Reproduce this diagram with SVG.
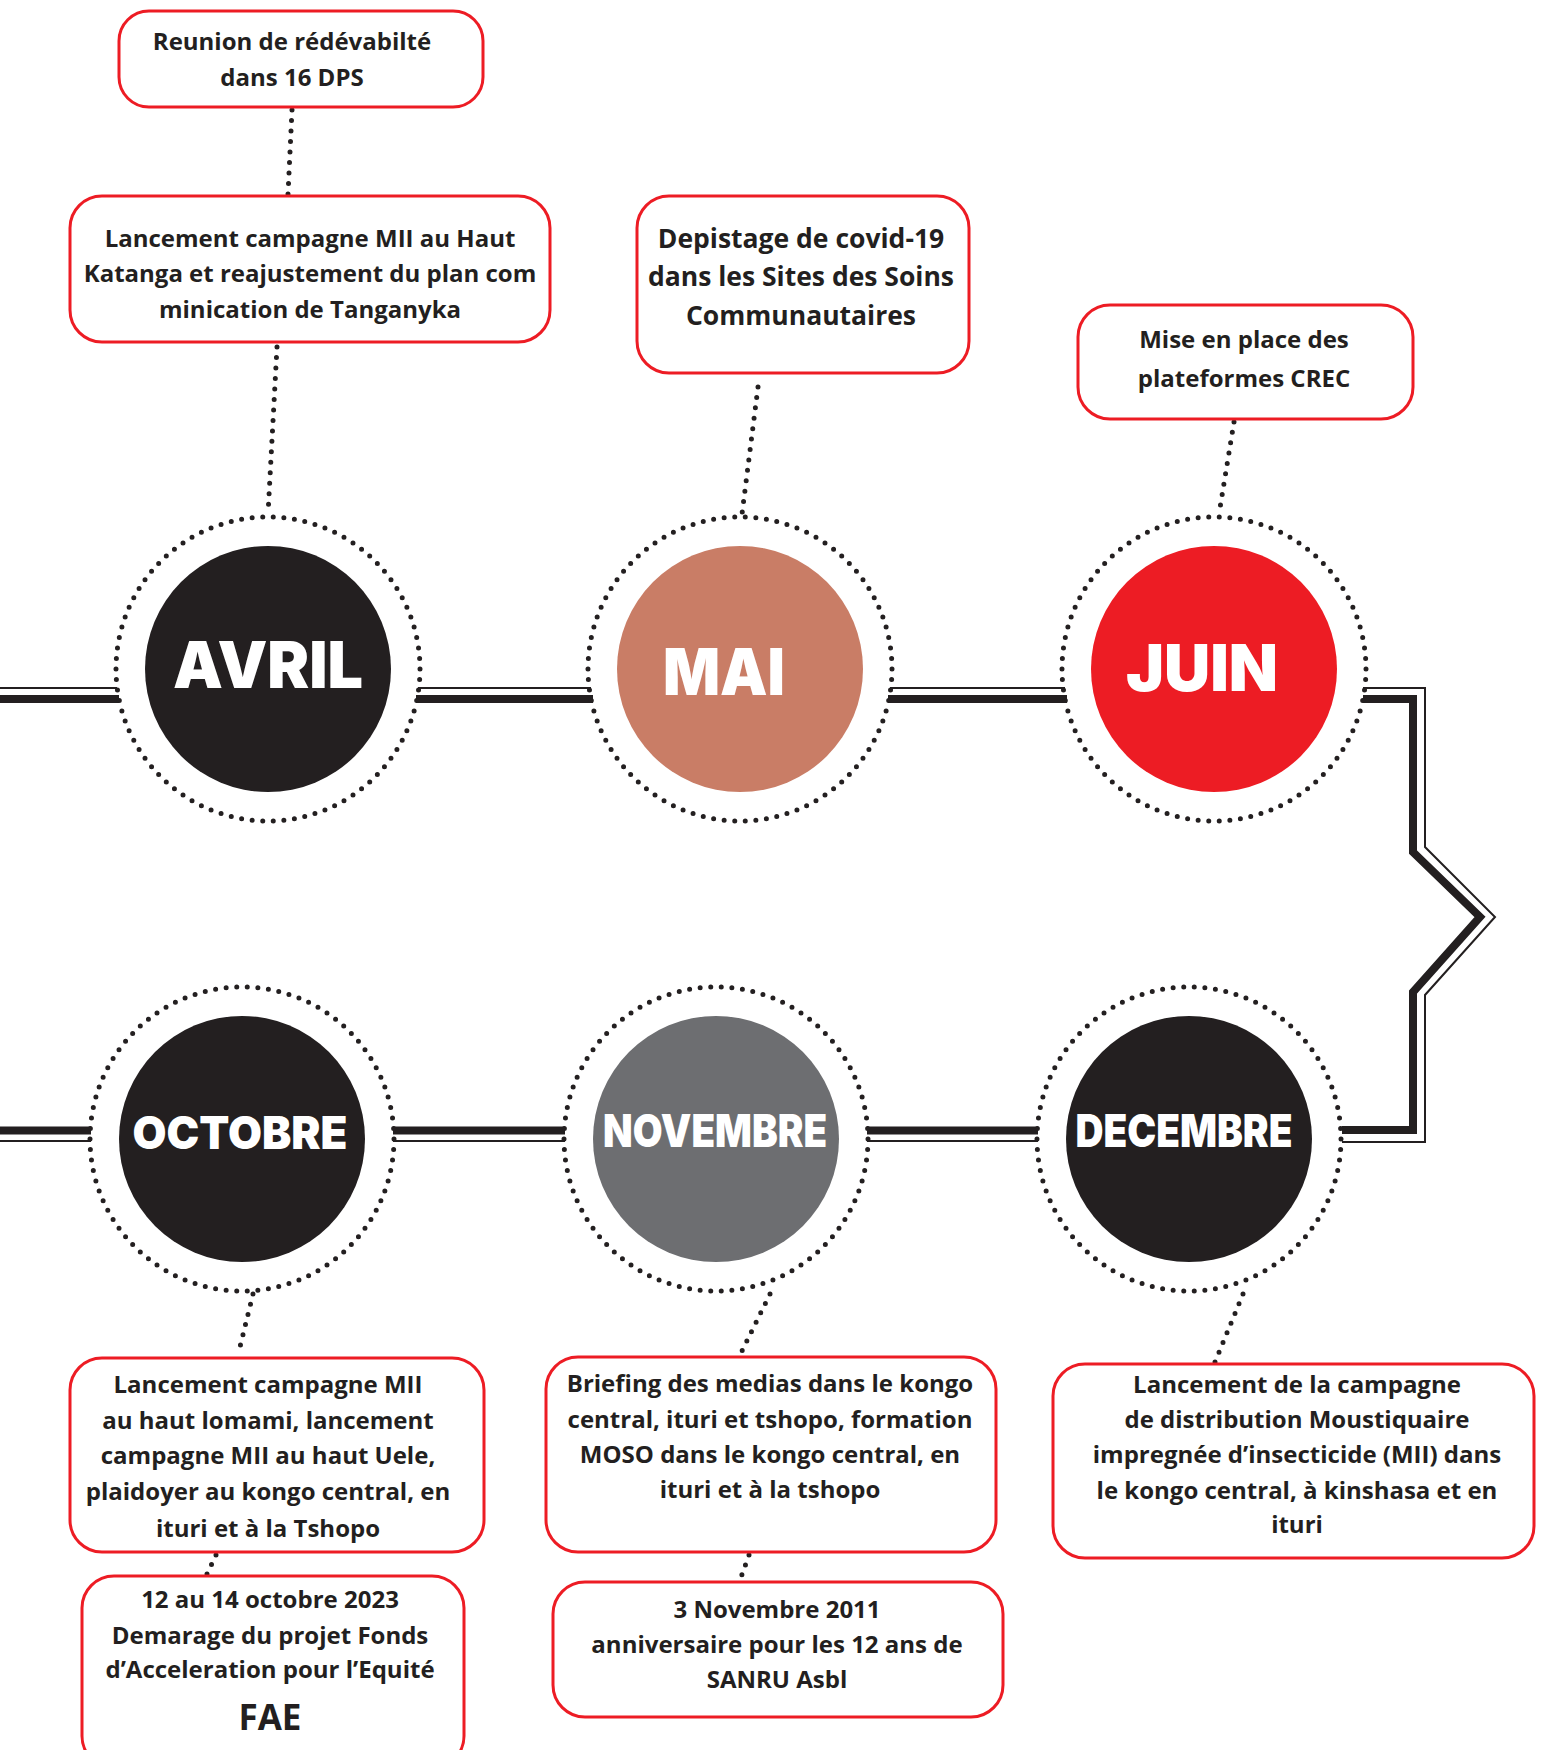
<svg xmlns="http://www.w3.org/2000/svg" width="1544" height="1750" viewBox="0 0 1544 1750">
<style>
.box{fill:#fff;stroke:#ED1C24;stroke-width:3}
.t{font-family:"Open Sans","Noto Sans","Liberation Sans",sans-serif;font-weight:700;fill:#231F20;text-anchor:middle;font-size:24px}
.big{font-size:26.5px}
.mid{font-size:24px}
.fae{font-size:35px}
.m{font-family:Inter,"Open Sans","DejaVu Sans",sans-serif;font-weight:900;fill:#fff;text-anchor:middle}
.m1{font-size:64px}
.m2{font-size:45px}
.ring{fill:none;stroke:#231F20;stroke-width:5;stroke-linecap:round;stroke-dasharray:0 1}
.dot{fill:none;stroke:#231F20;stroke-width:5;stroke-linecap:round;stroke-dasharray:0 10.5}
.thick{fill:none;stroke:#231F20;stroke-width:8;stroke-linejoin:miter}
.thin{fill:none;stroke:#231F20;stroke-width:2;stroke-linejoin:miter}
</style>
<rect width="1544" height="1750" fill="#fff"/>
<g id="connectors">
  <path class="thin" d="M0 688H117M418 688H591M890 688H1065"/>
  <path class="thick" d="M0 699H119M416 699H593M888 699H1067"/>
  <path class="thin" d="M1363 688H1425V847L1495 917L1425 995V1142H1342"/>
  <path class="thick" d="M1363 699H1413V852L1480 917L1413 992V1130H1342"/>
  <path class="thick" d="M0 1130.5H91M393 1130.5H565M867 1130.5H1038"/>
  <path class="thin" d="M0 1141H91M393 1141H565M867 1141H1038"/>
  <path class="dot" d="M292 110L288 194"/>
  <path class="dot" d="M277 347L268 514"/>
  <path class="dot" d="M758 387L742 514"/>
  <path class="dot" d="M1234 422L1219 514"/>
  <path class="dot" d="M253 1294L238 1355"/>
  <path class="dot" d="M216 1555L207 1574"/>
  <path class="dot" d="M770 1294L740 1355"/>
  <path class="dot" d="M749 1555L740 1580"/>
  <path class="dot" d="M1243 1294L1215 1362"/>
</g>
<g id="avril">
  <circle class="ring" cx="268" cy="669" r="152" pathLength="90"/>
  <circle cx="268" cy="669" r="123" fill="#231F20"/>
  <text class="m m1" x="268" y="688" textLength="190" lengthAdjust="spacingAndGlyphs">AVRIL</text>
</g>
<g id="mai">
  <circle class="ring" cx="740" cy="669" r="152" pathLength="90"/>
  <circle cx="740" cy="669" r="123" fill="#C97D66"/>
  <text class="m m1" x="724" y="695" textLength="122" lengthAdjust="spacingAndGlyphs">MAI</text>
</g>
<g id="juin">
  <circle class="ring" cx="1214" cy="669" r="152" pathLength="90"/>
  <circle cx="1214" cy="669" r="123" fill="#ED1C24"/>
  <text class="m m1" x="1202" y="691" textLength="152" lengthAdjust="spacingAndGlyphs">JUIN</text>
</g>
<g id="octobre">
  <circle class="ring" cx="242" cy="1139" r="152" pathLength="90"/>
  <circle cx="242" cy="1139" r="123" fill="#231F20"/>
  <text class="m m2" x="240" y="1149" textLength="215" lengthAdjust="spacingAndGlyphs">OCTOBRE</text>
</g>
<g id="novembre">
  <circle class="ring" cx="716" cy="1139" r="152" pathLength="90"/>
  <circle cx="716" cy="1139" r="123" fill="#6D6E71"/>
  <text class="m m2" x="715" y="1147" textLength="224" lengthAdjust="spacingAndGlyphs">NOVEMBRE</text>
</g>
<g id="decembre">
  <circle class="ring" cx="1189" cy="1139" r="152" pathLength="90"/>
  <circle cx="1189" cy="1139" r="123" fill="#231F20"/>
  <text class="m m2" x="1184" y="1147" textLength="217" lengthAdjust="spacingAndGlyphs">DECEMBRE</text>
</g>
<g id="box-reunion">
  <rect class="box" x="119" y="11" width="364" height="96" rx="30"/>
  <text class="t" x="292" y="50">Reunion de rédévabilté</text>
  <text class="t" x="292" y="86">dans 16 DPS</text>
</g>
<g id="box-lancement-haut-katanga">
  <rect class="box" x="70" y="196" width="480" height="146" rx="32"/>
  <text class="t" x="310" y="247">Lancement campagne MII au Haut</text>
  <text class="t" x="310" y="282">Katanga et reajustement du plan com</text>
  <text class="t" x="310" y="318">minication de Tanganyka</text>
</g>
<g id="box-depistage">
  <rect class="box" x="637" y="196" width="332" height="177" rx="32"/>
  <text class="t big" x="801" y="248">Depistage de covid-19</text>
  <text class="t big" x="801" y="286">dans les Sites des Soins</text>
  <text class="t big" x="801" y="325">Communautaires</text>
</g>
<g id="box-crec">
  <rect class="box" x="1078" y="305" width="335" height="114" rx="32"/>
  <text class="t mid" x="1244" y="348">Mise en place des</text>
  <text class="t mid" x="1244" y="387">plateformes CREC</text>
</g>
<g id="box-octobre">
  <rect class="box" x="70" y="1358" width="414" height="194" rx="32"/>
  <text class="t" x="268" y="1393">Lancement campagne MII</text>
  <text class="t" x="268" y="1429">au haut lomami, lancement</text>
  <text class="t" x="268" y="1464">campagne MII au haut Uele,</text>
  <text class="t" x="268" y="1500">plaidoyer au kongo central, en</text>
  <text class="t" x="268" y="1537">ituri et à la Tshopo</text>
</g>
<g id="box-fae">
  <rect class="box" x="82" y="1576" width="382" height="192" rx="32"/>
  <text class="t" x="270" y="1608">12 au 14 octobre 2023</text>
  <text class="t" x="270" y="1644">Demarage du projet Fonds</text>
  <text class="t" x="270" y="1678">d’Acceleration pour l’Equité</text>
  <text class="t fae" x="270" y="1730">FAE</text>
</g>
<g id="box-briefing">
  <rect class="box" x="546" y="1357" width="450" height="195" rx="32"/>
  <text class="t" x="770" y="1392">Briefing des medias dans le kongo</text>
  <text class="t" x="770" y="1428">central, ituri et tshopo, formation</text>
  <text class="t" x="770" y="1463">MOSO dans le kongo central, en</text>
  <text class="t" x="770" y="1498">ituri et à la tshopo</text>
</g>
<g id="box-sanru">
  <rect class="box" x="553" y="1582" width="450" height="135" rx="32"/>
  <text class="t" x="777" y="1618">3 Novembre 2011</text>
  <text class="t" x="777" y="1653">anniversaire pour les 12 ans de</text>
  <text class="t" x="777" y="1688">SANRU Asbl</text>
</g>
<g id="box-decembre">
  <rect class="box" x="1053" y="1364" width="481" height="194" rx="32"/>
  <text class="t" x="1297" y="1393">Lancement de la campagne</text>
  <text class="t" x="1297" y="1428">de distribution Moustiquaire</text>
  <text class="t" x="1297" y="1463">impregnée d’insecticide (MII) dans</text>
  <text class="t" x="1297" y="1499">le kongo central, à kinshasa et en</text>
  <text class="t" x="1297" y="1533">ituri</text>
</g>
</svg>
